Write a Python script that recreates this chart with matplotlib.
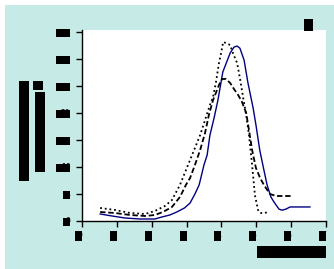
import matplotlib
matplotlib.use("Agg")
import matplotlib.pyplot as plt
from matplotlib.patches import Rectangle
from matplotlib.transforms import IdentityTransform

# ---------------- data ----------------
x_ticks = [0, 1, 2, 3, 4, 5, 6, 7]
x_tick_labels = ["0", "1", "2", "3", "4", "5", "6", "7"]
y_ticks = [0, 5, 10, 15, 20, 25, 30, 35]
y_tick_labels = ["0", "5", "10", "15", "20", "25", "30", "35"]

blue_x = [0.52, 0.86, 1.23, 1.66, 2.09, 2.29, 2.52, 2.72, 2.94, 3.10, 3.24, 3.36,
          3.50, 3.59, 3.67, 3.79, 3.90, 4.04, 4.25, 4.36, 4.45, 4.53, 4.65, 4.76,
          4.91, 4.99, 5.10, 5.22, 5.31, 5.42, 5.51, 5.65, 5.74, 5.85, 5.97, 6.25, 6.54]
blue_y = [1.30, 0.93, 0.56, 0.37, 0.37, 0.74, 1.11, 1.67, 2.41, 3.33, 5.0, 6.67,
          10.4, 12.2, 15.9, 19.1, 22.4, 27.6, 31.1, 32.2, 32.4, 32.0, 29.8, 25.6,
          20.9, 17.8, 13.1, 9.4, 6.67, 4.44, 3.5, 2.2, 2.0, 2.2, 2.6, 2.6, 2.6]

dash_x = [0.52, 0.95, 1.38, 1.81, 2.09, 2.32, 2.58, 2.81, 2.98, 3.10, 3.24, 3.39,
          3.53, 3.64, 3.76, 3.84, 3.93, 4.02, 4.13, 4.25, 4.36, 4.48, 4.59, 4.71,
          4.79, 4.88, 4.99, 5.11, 5.22, 5.39, 5.57, 5.80, 6.03]
dash_y = [1.67, 1.48, 1.11, 0.93, 1.11, 1.67, 2.59, 4.44, 6.67, 7.96, 10.37, 13.15,
          16.30, 19.63, 22.41, 23.70, 25.19, 26.30, 26.30, 25.56, 24.44, 23.33, 22.04, 20.0,
          16.85, 13.15, 9.81, 7.96, 6.67, 5.0, 4.63, 4.63, 4.63]

dot_x = [0.52, 0.95, 1.38, 1.81, 2.09, 2.38, 2.58, 2.81, 2.96, 3.10, 3.24, 3.39,
         3.53, 3.67, 3.76, 3.84, 3.93, 3.99, 4.05, 4.13, 4.25, 4.33, 4.45, 4.53,
         4.62, 4.71, 4.79, 4.88, 4.96, 5.05, 5.11, 5.22, 5.37]
dot_y = [2.41, 2.04, 1.48, 1.30, 1.85, 2.78, 3.89, 6.67, 9.07, 11.30, 13.52, 15.93,
         18.70, 21.48, 22.96, 25.56, 29.26, 31.11, 33.15, 32.96, 32.59, 31.11, 29.26, 26.48,
         22.96, 19.63, 15.93, 10.37, 4.81, 2.04, 1.48, 1.48, 1.67]

y_title_1 = "Relative intensity"
y_title_2a = "(percent of"
y_title_2b = "%"
x_title = "Time (min)"
corner_tag = "B"

# ---------------- figure ----------------
W, H, DPI = 334, 269, 100
BG = "#c6ebe6"

fig = plt.figure(figsize=(W / DPI, H / DPI), dpi=DPI, facecolor="white")
fig.patches.append(Rectangle((5 / W, 0), 1 - 5 / W, 1 - 5 / H,
                             transform=fig.transFigure, facecolor=BG,
                             edgecolor="none", zorder=-1))

ax = fig.add_axes([82 / W, 1 - 221 / H, (326 - 82) / W, (221 - 30) / H])
ax.set_facecolor("white")
ax.set_xlim(0, 7)
ax.set_ylim(0, 35 * 191 / 189)
for s in ("top", "right"):
    ax.spines[s].set_visible(False)
for s in ("left", "bottom"):
    ax.spines[s].set_linewidth(1.0)
    ax.spines[s].set_color("black")

ax.set_xticks(x_ticks)
ax.set_xticklabels(x_tick_labels)
ax.set_yticks(y_ticks)
ax.set_yticklabels(y_tick_labels)
ax.tick_params(axis="both", direction="out", length=4, width=1, colors="black",
               labelsize=5.5)
ax.tick_params(axis="y", pad=4.3)
ax.tick_params(axis="x", pad=3.5)
for lab in ax.get_xticklabels():
    lab.set_ha("right")

ax.plot(blue_x, blue_y, color="#000080", lw=1.0, zorder=3)
ax.plot(dash_x, dash_y, color="black", lw=1.3, ls=(0, (3, 1.5)), zorder=4)
ax.plot(dot_x, dot_y, color="black", lw=1.3, ls=(0, (1, 1.6)), zorder=4)

# ---------------- redaction-style text blocks ----------------
def block(x0, y0, x1, y1, s, rot=0, fs=6):
    cx = (x0 + x1) / 2
    cy = H - (y0 + y1) / 2
    fig.text(cx / W, cy / H, s, rotation=rot, ha="center", va="center",
             fontsize=fs, color="black", zorder=2)
    fig.add_artist(Rectangle((x0, H - y1), x1 - x0, y1 - y0,
                             transform=IdentityTransform(), facecolor="black",
                             edgecolor="none", zorder=5))

block(19, 81, 29, 181, y_title_1, rot=90, fs=4.5)
block(35, 92, 45, 172, y_title_2a, rot=90, fs=4.5)
block(33, 81, 43, 90, y_title_2b, rot=90, fs=4)
block(257, 246, 326, 258, x_title, fs=6)
block(304, 19, 313, 31, corner_tag, fs=5)

fig.canvas.draw()
renderer = fig.canvas.get_renderer()

def cover_label(lab, thick, char_w):
    bb = lab.get_window_extent(renderer)
    cy = (bb.y0 + bb.y1) / 2
    w = char_w * len(lab.get_text())
    fig.add_artist(Rectangle((bb.x1 - w, cy - thick / 2), w, thick,
                             transform=IdentityTransform(), facecolor="black",
                             edgecolor="none", zorder=5))

for lab in ax.get_yticklabels():
    if lab.get_visible() and lab.get_text():
        cover_label(lab, 8, 7)
for lab in ax.get_xticklabels():
    if lab.get_visible() and lab.get_text():
        cover_label(lab, 10, 7)

fig.savefig("out.png", dpi=DPI, facecolor=fig.get_facecolor())
